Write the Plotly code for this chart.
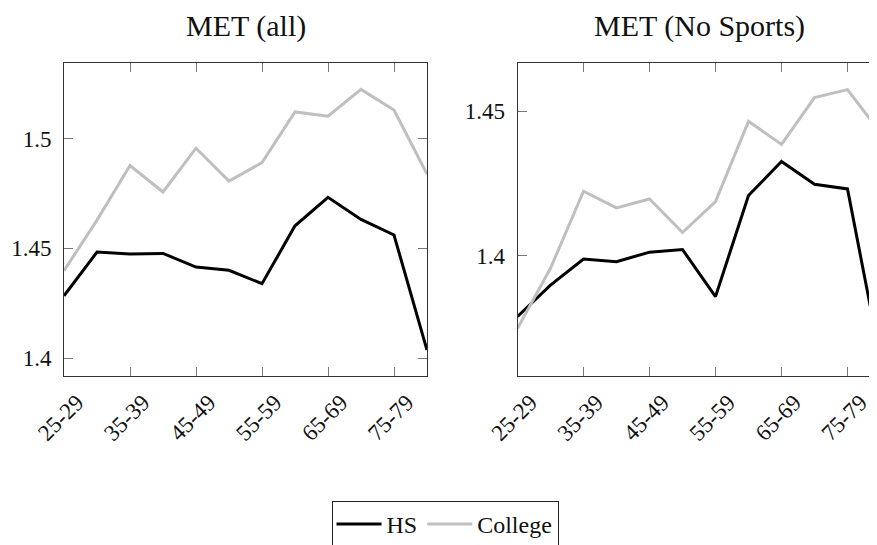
import plotly.graph_objects as go

# ---- data ----
age_groups = ["25-29", "30-34", "35-39", "40-44", "45-49", "50-54",
              "55-59", "60-64", "65-69", "70-74", "75-79", "80-84"]
met_all_hs = [1.4284, 1.4483, 1.4474, 1.4477, 1.4415, 1.4400,
              1.4339, 1.4603, 1.4733, 1.4632, 1.4561, 1.4036]
met_all_college = [1.4398, 1.4629, 1.4878, 1.4757, 1.4957, 1.4807,
                   1.4891, 1.5122, 1.5103, 1.5225, 1.5131, 1.4839]
met_nosport_hs = [1.3789, 1.3898, 1.3988, 1.3979, 1.4012, 1.4021,
                  1.3858, 1.4208, 1.4326, 1.4247, 1.4231, 1.3642]
met_nosport_college = [1.3748, 1.3956, 1.4223, 1.4165, 1.4196, 1.4080,
                       1.4187, 1.4465, 1.4385, 1.4547, 1.4575, 1.4425]
x_tick_labels = ["25-29", "35-39", "45-49", "55-59", "65-69", "75-79"]
y_ticks_all = [1.4, 1.45, 1.5]
y_ticklabels_all = ["1.4", "1.45", "1.5"]
y_ticks_nosport = [1.4, 1.45]
y_ticklabels_nosport = ["1.4", "1.45"]
panel_titles = ["MET (all)", "MET (No Sports)"]
series_names = ["HS", "College"]

# ---- styling ----
FONT = "Liberation Serif"
W, H = 877, 545
HS_COLOR = "#000000"
COL_COLOR = "#bfbfbf"
LW = 3

fig = go.Figure()
fig.add_trace(go.Scatter(x=age_groups, y=met_all_hs, mode="lines", name=series_names[0],
                         line=dict(color=HS_COLOR, width=LW), xaxis="x", yaxis="y",
                         legendgroup="hs"))
fig.add_trace(go.Scatter(x=age_groups, y=met_all_college, mode="lines", name=series_names[1],
                         line=dict(color=COL_COLOR, width=LW), xaxis="x", yaxis="y",
                         legendgroup="col"))
fig.add_trace(go.Scatter(x=age_groups, y=met_nosport_hs, mode="lines", name=series_names[0],
                         line=dict(color=HS_COLOR, width=LW), xaxis="x2", yaxis="y2",
                         legendgroup="hs", showlegend=False))
fig.add_trace(go.Scatter(x=age_groups, y=met_nosport_college, mode="lines", name=series_names[1],
                         line=dict(color=COL_COLOR, width=LW), xaxis="x2", yaxis="y2",
                         legendgroup="col", showlegend=False))

# pixel geometry (figure coordinates; page body adds an 8px offset)
left_x0, left_x1 = 56, 419
right_x0, right_x1 = 509.5, 872.5
top_px, bot_px = 55.3, 368

ydom = [(H - bot_px) / H, (H - top_px) / H]

common_x = dict(type="category", tickmode="array", tickvals=x_tick_labels,
                ticktext=x_tick_labels, tickangle=-45, ticks="inside", ticklen=9,
                tickwidth=1, tickcolor="#777777", showline=True, linecolor="#333333",
                linewidth=1, mirror="ticks", showgrid=False, zeroline=False,
                tickfont=dict(family=FONT, size=23, color="#111111"),
                ticklabelshift=13, ticklabelstandoff=3, automargin=False,
                range=[0, 11])
common_y = dict(tickmode="array", ticks="inside", ticklen=9, tickwidth=1,
                tickcolor="#777777", showline=True, linecolor="#333333", linewidth=1,
                mirror="ticks", showgrid=False, zeroline=False,
                tickfont=dict(family=FONT, size=23, color="#111111"),
                ticklabelstandoff=7, automargin=False)

fig.update_layout(
    width=W, height=H,
    margin=dict(l=0, r=0, t=0, b=0, autoexpand=False),
    paper_bgcolor="white", plot_bgcolor="white",
    font=dict(family=FONT, size=23, color="#111111"),
    xaxis=dict(common_x, domain=[left_x0 / W, left_x1 / W], anchor="y"),
    yaxis=dict(common_y, domain=ydom, range=[1.3918, 1.5344], anchor="x",
               tickvals=y_ticks_all, ticktext=y_ticklabels_all),
    xaxis2=dict(common_x, domain=[right_x0 / W, right_x1 / W], anchor="y2"),
    yaxis2=dict(common_y, domain=ydom, range=[1.3583, 1.4666], anchor="x2",
                tickvals=y_ticks_nosport, ticktext=y_ticklabels_nosport),
    showlegend=True,
    legend=dict(orientation="h", x=437 / W, xanchor="center", y=(H - 493) / H,
                yanchor="top", bordercolor="#222222", borderwidth=1,
                font=dict(family=FONT, size=24, color="#111111"),
                bgcolor="white", itemwidth=45, tracegroupgap=0),
)

for txt, cx in zip(panel_titles, [(left_x0 + left_x1) / 2, (right_x0 + right_x1) / 2]):
    fig.add_annotation(text=txt, xref="paper", yref="paper", x=cx / W, y=(H - 18) / H,
                       xanchor="center", yanchor="middle", showarrow=False,
                       font=dict(family=FONT, size=30, color="#111111"))

fig.write_html("out.html")
